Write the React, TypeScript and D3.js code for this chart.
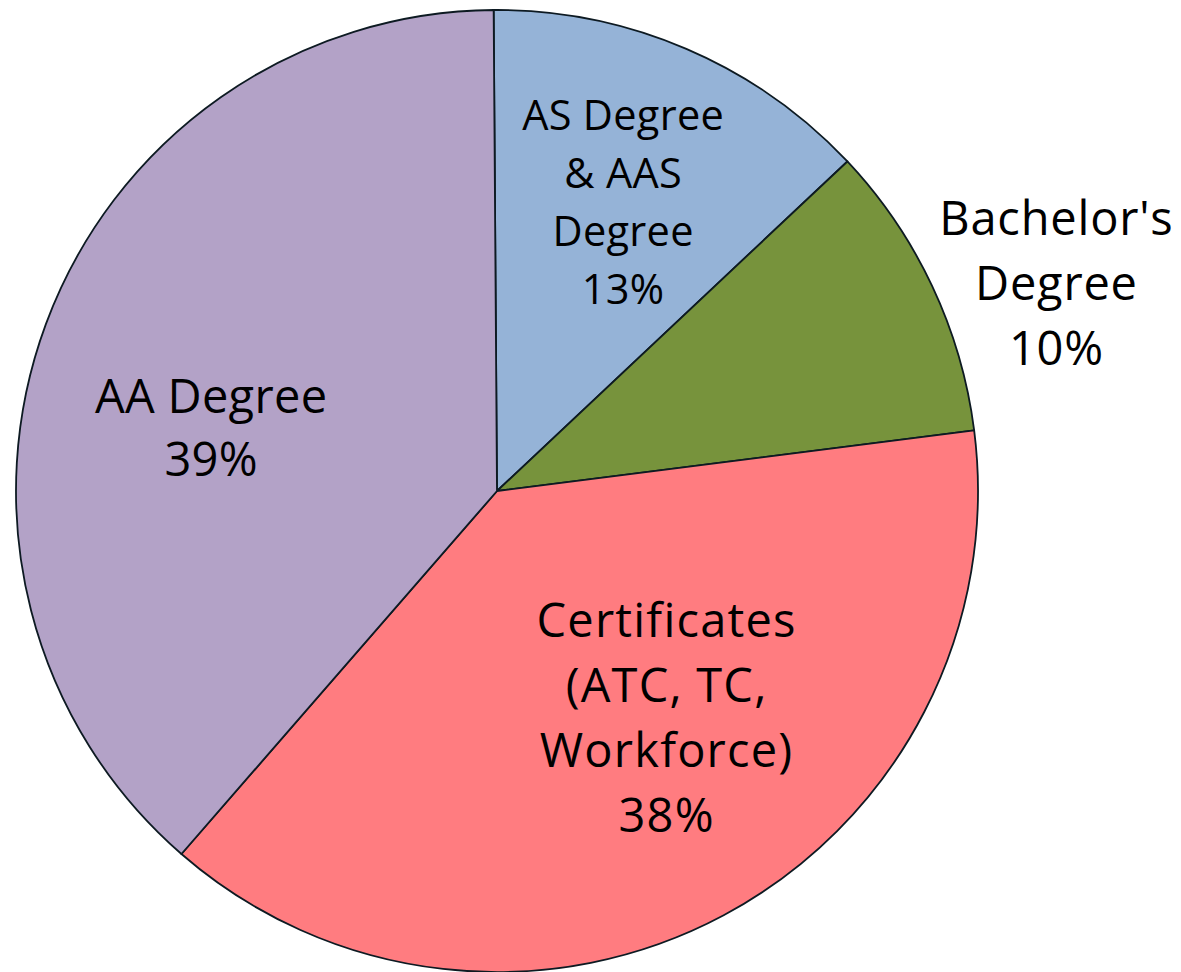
import React from "react";
import * as d3 from "d3";

const categories = [
  "AS Degree & AAS Degree",
  "Bachelor's Degree",
  "Certificates (ATC, TC, Workforce)",
  "AA Degree",
];
// slice shares (labels show rounded values)
const values = [13.1, 10.0, 38.4, 38.5];
const labelLines = [
  ["AS Degree", "& AAS", "Degree", "13%"],
  ["Bachelor's", "Degree", "10%"],
  ["Certificates", "(ATC, TC,", "Workforce)", "38%"],
  ["AA Degree", "39%"],
];
const colors = ["#95b3d7", "#77933c", "#ff7c80", "#b3a2c7"];

// label layout: center x, first baseline y, font size, line height, letter spacing
const labelLayout = [
  { x: 623, y: 130, size: 41.5, lh: 58, ls: 0.3 },
  { x: 1056, y: 235, size: 47, lh: 65, ls: 0.8 },
  { x: 666, y: 637, size: 47, lh: 65, ls: 1.2 },
  { x: 211, y: 413, size: 47, lh: 63, ls: 0.3 },
];

const W = 1181;
const H = 972;
const cx = 497;
const cy = 491;
const R = 481;

export default function App() {
  const pie = d3
    .pie<number>()
    .sort(null)
    .startAngle((-0.4 * Math.PI) / 180)
    .endAngle(2 * Math.PI - (0.4 * Math.PI) / 180);
  const arcs = pie(values);
  const arc = d3.arc<d3.PieArcDatum<number>>().innerRadius(0).outerRadius(R);

  return (
    <svg
      width={W}
      height={H}
      style={{ position: "absolute", left: 0, top: 0, background: "#fff" }}
      fontFamily="'Open Sans', sans-serif"
    >
      <g transform={`translate(${cx},${cy})`}>
        {arcs.map((a, i) => (
          <path
            key={categories[i]}
            d={arc(a) || ""}
            fill={colors[i]}
            stroke="#0d1a22"
            strokeWidth={1.8}
            strokeLinejoin="round"
          />
        ))}
      </g>
      {labelLines.map((lines, i) => {
        const L = labelLayout[i];
        return (
          <text
            key={"l" + i}
            x={L.x}
            textAnchor="middle"
            fontSize={L.size}
            letterSpacing={L.ls}
            fill="#000"
          >
            {lines.map((t, j) => (
              <tspan key={j} x={L.x + L.ls / 2} y={L.y + j * L.lh}>
                {t}
              </tspan>
            ))}
          </text>
        );
      })}
    </svg>
  );
}
